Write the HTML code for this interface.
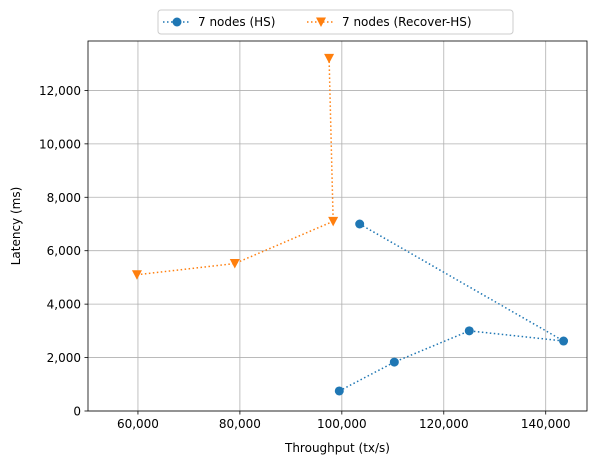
<!DOCTYPE html>
<html><head><meta charset="utf-8"><style>
body{margin:0;background:#fff;font-family:"Liberation Sans","DejaVu Sans",sans-serif;}
svg text{font-family:"DejaVu Sans","Liberation Sans",sans-serif;font-size:12px;fill:#000;}
</style></head><body>
<svg id="chart" width="593" height="464"></svg>
<script>
const hsX=[99500,110300,125000,143500,103500];
const hsY=[750,1830,3000,2620,7000];
const recX=[59800,79000,98300,97500];
const recY=[5100,5520,7100,13200];
const xTicks=[60000,80000,100000,120000,140000];
const yTicks=[0,2000,4000,6000,8000,10000,12000];
const L=88,R=587,T=41,B=411;
const xMin=50200,xMax=148100,yMin=0,yMax=13850;
const sx=v=>L+(v-xMin)/(xMax-xMin)*(R-L);
const sy=v=>B-(v-yMin)/(yMax-yMin)*(B-T);
const svg=document.getElementById('chart');
const NS='http://www.w3.org/2000/svg';
function el(t,a,p){const e=document.createElementNS(NS,t);for(const k in a)e.setAttribute(k,a[k]);(p||svg).appendChild(e);return e;}
const fmt=v=>v.toLocaleString('en-US');
xTicks.forEach(v=>{const x=sx(v);
const g=el('line',{x1:x,x2:x,y1:T,y2:B,stroke:'#b0b0b0','stroke-width':0.8});

el('line',{x1:x,x2:x,y1:B,y2:B+3.5,stroke:'#000','stroke-width':0.8});
const t=el('text',{x:x,y:B+17,'text-anchor':'middle'});t.textContent=fmt(v);
});
yTicks.forEach(v=>{const y=sy(v);
const g=el('line',{x1:L,x2:R,y1:y,y2:y,stroke:'#b0b0b0','stroke-width':0.8});

el('line',{x1:L-3.5,x2:L,y1:y,y2:y,stroke:'#000','stroke-width':0.8});
const t=el('text',{x:L-7,y:y+4.5,'text-anchor':'end'});t.textContent=fmt(v);
});
const fr=el('rect',{x:L,y:T,width:R-L,height:B-T,fill:'none',stroke:'#000','stroke-width':0.8});

const xt=el('text',{x:(L+R)/2,y:452,'text-anchor':'middle'});xt.textContent='Throughput (tx/s)';

const yt=el('text',{x:0,y:0,'text-anchor':'middle',transform:`translate(20,${(T+B)/2}) rotate(-90)`});yt.textContent='Latency (ms)';

function tri(x,y,c){return el('path',{d:`M${x-5},${y-4.5} L${x+5},${y-4.5} L${x},${y+5} Z`,fill:c});}
const blue='#1f77b4',orange='#ff7f0e';
const lb=el('polyline',{points:hsX.map((v,i)=>sx(v)+','+sy(hsY[i])).join(' '),fill:'none',stroke:blue,'stroke-width':1.5,'stroke-dasharray':'1.5,2.5'});

hsX.forEach((v,i)=>{const c=el('circle',{cx:sx(v),cy:sy(hsY[i]),r:4.5,fill:blue});
});
const lo=el('polyline',{points:recX.map((v,i)=>sx(v)+','+sy(recY[i])).join(' '),fill:'none',stroke:orange,'stroke-width':1.5,'stroke-dasharray':'1.5,2.5'});

recX.forEach((v,i)=>{const p=tri(sx(v),sy(recY[i]),orange);
});
const lg=el('g',{});
el('rect',{x:158,y:10,width:355,height:24,rx:3,fill:'#fff',stroke:'#ccc'},lg);
el('line',{x1:163,x2:191,y1:22,y2:22,stroke:blue,'stroke-width':1.5,'stroke-dasharray':'1.5,2.5'},lg);
el('circle',{cx:177,cy:22,r:4.5,fill:blue},lg);
const t1=el('text',{x:198,y:26},lg);t1.textContent='7 nodes (HS)';

el('line',{x1:307,x2:335,y1:22,y2:22,stroke:orange,'stroke-width':1.5,'stroke-dasharray':'1.5,2.5'},lg);
lg.appendChild(tri(321,22,orange));
const t2=el('text',{x:342,y:26},lg);t2.textContent='7 nodes (Recover-HS)';

</script>
</body></html>
